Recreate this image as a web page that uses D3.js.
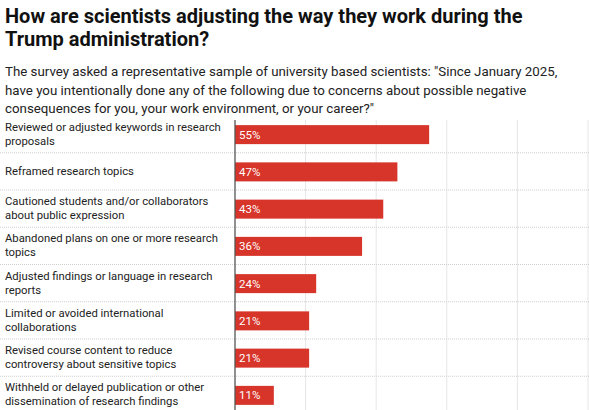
<!DOCTYPE html>
<html><head><meta charset="utf-8">
<script src="https://cdn.jsdelivr.net/npm/d3@7"></script>
<style>
body{margin:0;background:#fff;font-family:Roboto,sans-serif;}
</style></head><body>
<script>
const titleLines = ["How are scientists adjusting the way they work during the", "Trump administration?"];
const subtitleLines = [
	"The survey asked a representative sample of university based scientists: \"Since January 2025,",
	"have you intentionally done any of the following due to concerns about possible negative",
	"consequences for you, your work environment, or your career?\""
];
const categories = [
	["Reviewed or adjusted keywords in research", "proposals"],
	["Reframed research topics"],
	["Cautioned students and/or collaborators", "about public expression"],
	["Abandoned plans on one or more research", "topics"],
	["Adjusted findings or language in research", "reports"],
	["Limited or avoided international", "collaborations"],
	["Revised course content to reduce", "controversy about sensitive topics"],
	["Withheld or delayed publication or other", "dissemination of research findings"]
];
const values = [55, 46, 42, 36, 23, 21, 21, 11];
const gridTicks = [20, 40, 60, 80, 100];

const width = 589, height = 410;
const svg = d3.select("body").append("svg").attr("width", width).attr("height", height);

svg.append("g").selectAll("text").data(titleLines).enter().append("text")
	.attr("x", 5).attr("y", (d, i) => 23 + i * 23)
	.attr("font-size", "20px").attr("font-weight", "bold").attr("fill", "#111")
	.text(d => d);

svg.append("g").selectAll("text").data(subtitleLines).enter().append("text")
	.attr("x", 5).attr("y", (d, i) => 76 + i * 18.5)
	.attr("font-size", "13.3px").attr("fill", "#222")
	.text(d => d);

const x = d3.scaleLinear().domain([0, 100]).range([235, 588]);
const y = d3.scaleBand().domain(d3.range(values.length)).range([115, 413]).paddingInner(0);

// vertical grid
svg.append("g").selectAll("line").data(gridTicks).enter().append("line")
	.attr("x1", d => x(d)).attr("x2", d => x(d))
	.attr("y1", 120).attr("y2", height)
	.attr("stroke", "#e6e6e6").attr("stroke-width", 1);

// dotted row separators
svg.append("g").selectAll("line").data(d3.range(1, values.length)).enter().append("line")
	.attr("x1", 0).attr("x2", width)
	.attr("y1", d => y(d) + 0.5).attr("y2", d => y(d) + 0.5)
	.attr("stroke", "#cfcfcf").attr("stroke-dasharray", "1,1");

const bh = 19;
svg.append("g").selectAll("rect").data(values).enter().append("rect")
	.attr("x", x(0)).attr("y", (d, i) => y(i) + y.bandwidth() / 2 - bh / 2 + 1)
	.attr("width", d => x(d) - x(0)).attr("height", bh)
	.attr("fill", "#d7342a");

const shown = [55, 47, 43, 36, 24, 21, 21, 11];
svg.append("g").selectAll("text").data(shown).enter().append("text")
	.attr("x", x(0) + 4).attr("y", (d, i) => y(i) + y.bandwidth() / 2 + 5)
	.attr("font-size", "11.5px").attr("fill", "#fff")
	.text(d => d + "%");

// axis line
svg.append("line").attr("x1", x(0)).attr("x2", x(0))
	.attr("y1", 120).attr("y2", height)
	.attr("stroke", "#555").attr("stroke-width", 1.3);

const lab = svg.append("g").selectAll("text").data(categories).enter().append("text")
	.attr("font-size", "11.3px").attr("fill", "#222");
lab.each(function (d, i) {
	const n = d.length;
	const y0 = y(i) + y.bandwidth() / 2 - (n - 1) * 7 + 4;
	d3.select(this).selectAll("tspan").data(d).enter().append("tspan")
		.attr("x", 5).attr("y", (t, j) => y0 + j * 14)
		.text(t => t);
});
</script>
</body></html>
